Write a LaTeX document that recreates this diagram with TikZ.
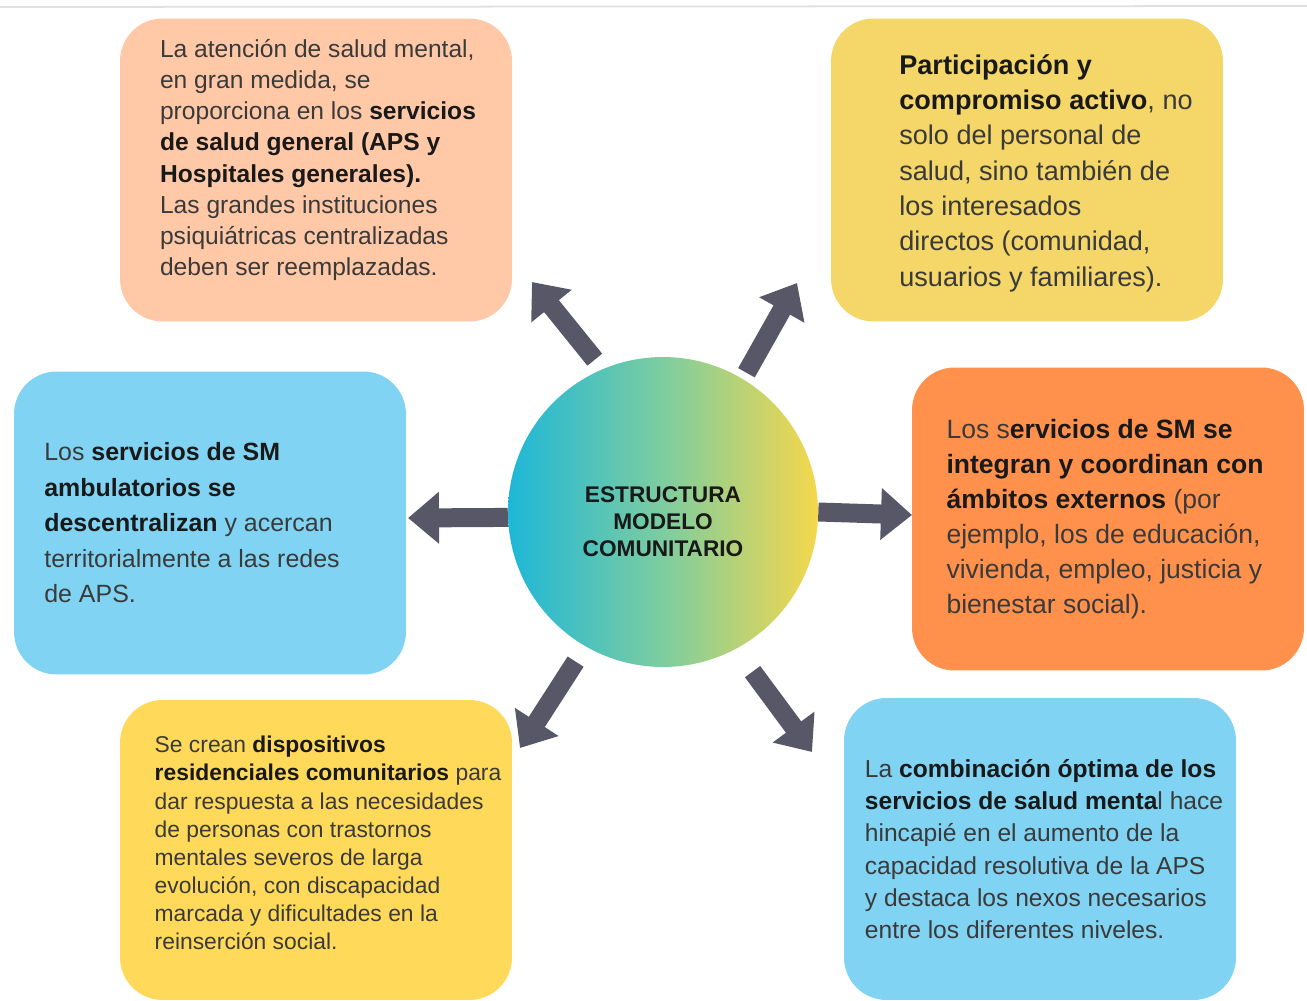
\documentclass[tikz,border=0pt]{standalone}
\usepackage{fontspec}
\setmainfont{Liberation Sans}
\usetikzlibrary{arrows.meta}

\definecolor{peach}{HTML}{FFC9A8}
\definecolor{mustard}{HTML}{F4D669}
\definecolor{sky}{HTML}{80D3F2}
\definecolor{tangerine}{HTML}{FF914D}
\definecolor{sun}{HTML}{FFD95A}
\definecolor{slate}{HTML}{585768}
\definecolor{txt}{HTML}{3A3A3A}
\definecolor{cyanend}{HTML}{1EB7D8}
\definecolor{midgreen}{HTML}{7DCDA0}
\definecolor{yellowend}{HTML}{F5D74B}

\newcommand{\hl}[1]{\textbf{\color{black!90}#1}}

\begin{document}
\begin{tikzpicture}
[
  x=0.02cm, y=-0.02cm,
	card/.style={rounded corners=0.85cm,minimum width=7.84cm,minimum height=6.06cm,inner sep=0pt},
	cardtext/.style={align=left,text=txt,inner sep=0pt},
	peachcard/.style={card,fill=peach},
	mustardcard/.style={card,fill=mustard},
	skycard/.style={card,fill=sky},
	orangecard/.style={card,fill=tangerine},
	suncard/.style={card,fill=sun},
	hubstyle/.style={circle,minimum size=6.2cm,inner sep=0pt,left color=cyanend,right color=yellowend,middle color=midgreen},
	hubtext/.style={align=center,font=\bfseries\fontsize{12.9}{15.3}\selectfont,text=black!90,inner sep=0pt},
	push/.style={draw=slate,line width=0.38cm,-{Triangle[width=1cm,length=0.62cm]}}
]
\useasboundingbox (0,0) rectangle (1307,1000);
\draw[black!12,line width=1pt] (0,7) -- (1307,6);

\node[peachcard] (aps) at (316,170) {};
\node[cardtext,font=\fontsize{14}{17.8}\selectfont,xshift=0.04cm,yshift=0.2cm] (apstext) at (aps.center) {La atención de salud mental,\\en gran medida, se\\proporciona en los \hl{servicios}\\\hl{de salud general (APS y}\\\hl{Hospitales generales).}\\Las grandes instituciones\\psiquiátricas centralizadas\\deben ser reemplazadas.};

\node[mustardcard] (part) at (1027,170) {};
\node[cardtext,font=\fontsize{15.4}{20.1}\selectfont,xshift=0.38cm,yshift=-0.06cm] (parttext) at (part.center) {\hl{Participación y}\\\hl{compromiso activo}, no\\solo del personal de\\salud, sino también de\\los interesados\\directos (comunidad,\\usuarios y familiares).};

\node[skycard] (amb) at (210,523) {};
\node[cardtext,font=\fontsize{14.2}{20.2}\selectfont,xshift=-0.36cm] (ambtext) at (amb.center) {Los \hl{servicios de SM}\\\hl{ambulatorios se}\\\hl{descentralizan} y acercan\\territorialmente a las redes\\de APS.};

\node[orangecard] (ext) at (1108,519) {};
\node[cardtext,font=\fontsize{15.1}{20}\selectfont,xshift=-0.06cm] (exttext) at (ext.center) {Los s\hl{ervicios de SM se}\\\hl{integran y coordinan con}\\\hl{ámbitos externos} (por\\ejemplo, los de educación,\\vivienda, empleo, justicia y\\bienestar social).};

\node[suncard,minimum height=6cm] (res) at (316,850) {};
\node[cardtext,font=\fontsize{13}{16}\selectfont,xshift=0.24cm,yshift=0.14cm] (restext) at (res.center) {Se crean \hl{dispositivos}\\\hl{residenciales comunitarios} para\\dar respuesta a las necesidades\\de personas con trastornos\\mentales severos de larga\\evolución, con discapacidad\\marcada y dificultades en la\\reinserción social.};

\node[skycard,minimum height=6.04cm] (comb) at (1040,849) {};
\node[cardtext,font=\fontsize{14}{18.4}\selectfont,xshift=0.08cm] (combtext) at (comb.center) {La \hl{combinación óptima de los}\\\hl{servicios de salud menta}l hace\\hincapié en el aumento de la\\capacidad resolutiva de la APS\\y destaca los nexos necesarios\\entre los diferentes niveles.};

\node[hubstyle] (hub) at (663,512) {};
\node[hubtext,yshift=-0.2cm] (hublabel) at (hub.center) {ESTRUCTURA\\MODELO\\COMUNITARIO};

\coordinate (tipaps) at (532,282);
\coordinate (tippart) at (797,283);
\coordinate (tipamb) at (408,518);
\coordinate (tipext) at (912,515);
\coordinate (tipres) at (520,748);
\coordinate (tipcomb) at (812,752);

\draw[push,shorten <=0.24cm] (hub.113) -- (tipaps);
\draw[push,shorten <=0.14cm] (hub.59) -- (tippart);
\draw[push] (hub.182) -- (tipamb);
\draw[push] (hub.0) -- (tipext);
\draw[push,shorten <=0.36cm] (hub.240) -- (tipres);
\draw[push,shorten <=0.56cm] (hub.298) -- (tipcomb);

\end{tikzpicture}
\end{document}
